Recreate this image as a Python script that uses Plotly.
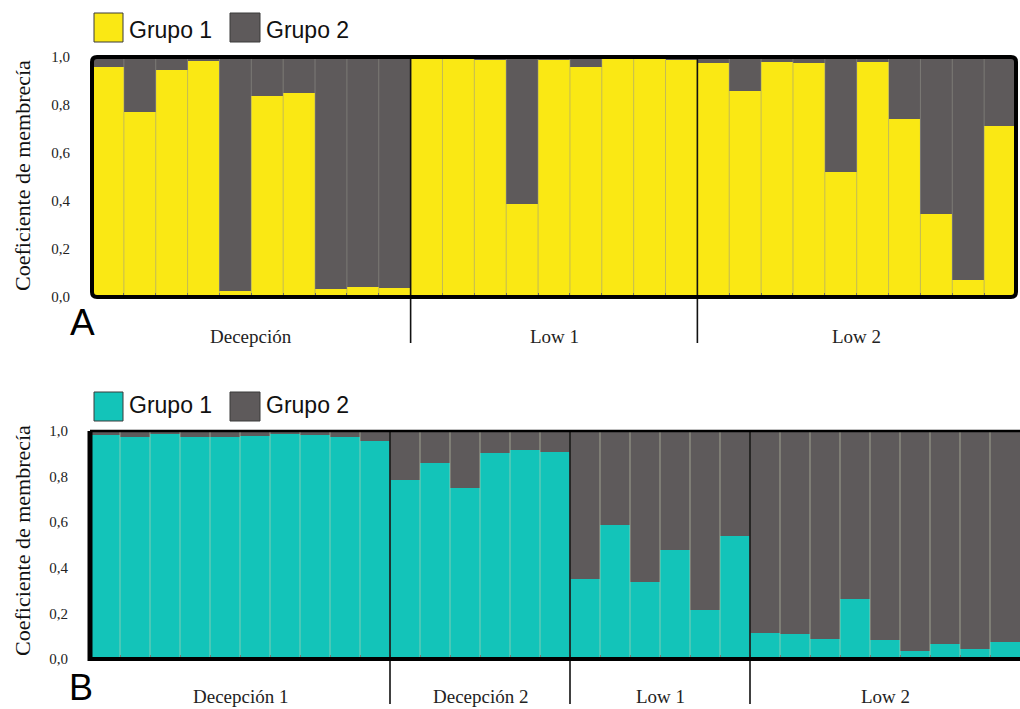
import plotly.graph_objects as go

W, H = 1020, 709

# ---------------- data ----------------
groups_a = ["Decepción", "Low 1", "Low 2"]
counts_a = [10, 9, 10]
grupo1_a = [0.957, 0.769, 0.947, 0.982, 0.025, 0.838, 0.849, 0.032, 0.040, 0.036,
            0.995, 0.995, 0.989, 0.388, 0.986, 0.958, 0.990, 0.995, 0.986,
            0.975, 0.860, 0.978, 0.975, 0.520, 0.978, 0.742, 0.345, 0.071, 0.713]
grupo2_a = [0.043, 0.231, 0.053, 0.018, 0.975, 0.162, 0.151, 0.968, 0.960, 0.964,
            0.005, 0.005, 0.011, 0.612, 0.014, 0.042, 0.010, 0.005, 0.014,
            0.025, 0.140, 0.022, 0.025, 0.480, 0.022, 0.258, 0.655, 0.929, 0.287]

groups_b = ["Decepción 1", "Decepción 2", "Low 1", "Low 2"]
counts_b = [10, 6, 6, 9]
grupo1_b = [0.982, 0.972, 0.987, 0.975, 0.975, 0.978, 0.987, 0.982, 0.975, 0.956,
            0.784, 0.860, 0.752, 0.904, 0.916, 0.907,
            0.351, 0.589, 0.336, 0.479, 0.216, 0.539,
            0.116, 0.109, 0.087, 0.263, 0.084, 0.035, 0.067, 0.043, 0.075]
grupo2_b = [0.018, 0.028, 0.013, 0.025, 0.025, 0.022, 0.013, 0.018, 0.025, 0.044,
            0.216, 0.140, 0.248, 0.096, 0.084, 0.093,
            0.649, 0.411, 0.664, 0.521, 0.784, 0.461,
            0.884, 0.891, 0.913, 0.737, 0.916, 0.965, 0.933, 0.957, 0.925]

legend_names = ["Grupo 1", "Grupo 2"]
y_ticks = [0.0, 0.2, 0.4, 0.6, 0.8, 1.0]
y_ticktext = ["0,0", "0,2", "0,4", "0,6", "0,8", "1,0"]
y_title = "Coeficiente de membrecía"

# ---------------- styles ----------------
YELLOW = "#FAE814"
TEAL = "#13C4B9"
GRAY = "#5E5A5B"
SERIF = "Liberation Serif, Times New Roman, serif"
SANS = "Liberation Sans, Arial, sans-serif"


def px_x(v):
    return v / W


def px_y(v):
    return 1 - v / H


# panel geometry (pixels)
A_left, A_right, A_top, A_bot = 92, 1016, 57, 297
B_left, B_right, B_top, B_bot = 90, 1020, 431, 659

fig = go.Figure()

xa = list(range(len(grupo1_a)))
xb = list(range(len(grupo1_b)))

fig.add_trace(go.Bar(x=xa, y=grupo1_a, name=legend_names[0], marker_color=YELLOW,
                     marker_line_width=0, xaxis="x", yaxis="y", showlegend=False))
fig.add_trace(go.Bar(x=xa, y=grupo2_a, name=legend_names[1], marker_color=GRAY,
                     marker_line_width=0, xaxis="x", yaxis="y", showlegend=False))
fig.add_trace(go.Bar(x=xb, y=grupo1_b, name=legend_names[0], marker_color=TEAL,
                     marker_line_width=0, xaxis="x2", yaxis="y2", showlegend=False))
fig.add_trace(go.Bar(x=xb, y=grupo2_b, name=legend_names[1], marker_color=GRAY,
                     marker_line_width=0, xaxis="x2", yaxis="y2", showlegend=False))

shapes = []
annotations = []

# thin separators between individual bars
for i in range(len(xa) - 1):
    shapes.append(dict(type="line", xref="x", yref="y", x0=i + 0.5, x1=i + 0.5, y0=0, y1=1,
                       line=dict(color="rgba(150,150,140,0.55)", width=1), layer="above"))
for i in range(len(xb) - 1):
    shapes.append(dict(type="line", xref="x2", yref="y2", x0=i + 0.5, x1=i + 0.5, y0=0, y1=1,
                       line=dict(color="rgba(205,210,180,0.6)", width=1), layer="above"))


# group separators & labels
def group_marks(counts, names, xref, y_low_px, y_top_px, label_y_px):
    start = 0
    for k, (c, name) in enumerate(zip(counts, names)):
        center = start + (c - 1) / 2
        annotations.append(dict(x=center, xref=xref, y=px_y(label_y_px), yref="paper",
                                text=name, showarrow=False, xanchor="center", yanchor="middle",
                                font=dict(family=SERIF, size=19, color="#222")))
        start += c
        if k < len(counts) - 1:
            shapes.append(dict(type="line", xref=xref, yref="paper", x0=start - 0.5, x1=start - 0.5,
                               y0=px_y(y_low_px), y1=px_y(y_top_px),
                               line=dict(color="#111", width=1.6), layer="above"))


group_marks(counts_a, groups_a, "x", 343, A_top, 337)
group_marks(counts_b, groups_b, "x2", 704, B_top, 696)

# frame A (rounded)
r_x, r_y = 5 / W, 5 / H
x0, x1 = px_x(A_left), px_x(A_right)
y0, y1 = px_y(A_bot), px_y(A_top)
path = (f"M {x0 + r_x},{y1} L {x1 - r_x},{y1} Q {x1},{y1} {x1},{y1 - r_y} "
        f"L {x1},{y0 + r_y} Q {x1},{y0} {x1 - r_x},{y0} L {x0 + r_x},{y0} "
        f"Q {x0},{y0} {x0},{y0 + r_y} L {x0},{y1 - r_y} Q {x0},{y1} {x0 + r_x},{y1} Z")
shapes.append(dict(type="path", xref="paper", yref="paper", path=path,
                   line=dict(color="#000", width=4), layer="above"))

# frame B (left, bottom thick; top thinner; right cut off)
shapes.append(dict(type="line", xref="paper", yref="paper", x0=px_x(B_left), x1=px_x(B_left),
                   y0=px_y(B_bot + 2), y1=px_y(B_top), line=dict(color="#000", width=5), layer="above"))
shapes.append(dict(type="line", xref="paper", yref="paper", x0=px_x(B_left - 2), x1=1,
                   y0=px_y(B_bot), y1=px_y(B_bot), line=dict(color="#000", width=4), layer="above"))
shapes.append(dict(type="line", xref="paper", yref="paper", x0=px_x(B_left), x1=1,
                   y0=px_y(B_top), y1=px_y(B_top), line=dict(color="#000", width=2.5), layer="above"))


# manual legends
def legend(color1, y_top_px, y_bot_px, text_y_px):
    items = [(color1, 94, 123, 127, legend_names[0]), (GRAY, 230, 260, 264, legend_names[1])]
    for col, sx0, sx1, tx, name in items:
        shapes.append(dict(type="rect", xref="paper", yref="paper",
                           x0=px_x(sx0), x1=px_x(sx1), y0=px_y(y_bot_px), y1=px_y(y_top_px),
                           fillcolor=col, line=dict(color="#3a3a3a", width=1)))
        annotations.append(dict(x=px_x(tx), xref="paper", y=px_y(text_y_px), yref="paper",
                                text=name, showarrow=False, xanchor="left", yanchor="middle",
                                font=dict(family=SANS, size=23, color="#111")))


legend(YELLOW, 13, 42, 30)
legend(TEAL, 392, 421, 405)

# y titles
annotations.append(dict(x=px_x(22), xref="paper", y=px_y(176), yref="paper", text=y_title,
                        textangle=-90, showarrow=False, xanchor="center", yanchor="middle",
                        font=dict(family=SERIF, size=22, color="#111")))
annotations.append(dict(x=px_x(22), xref="paper", y=px_y(541), yref="paper", text=y_title,
                        textangle=-90, showarrow=False, xanchor="center", yanchor="middle",
                        font=dict(family=SERIF, size=22, color="#111")))

# panel letters
annotations.append(dict(x=px_x(82), xref="paper", y=px_y(323), yref="paper", text="A",
                        showarrow=False, xanchor="center", yanchor="middle",
                        font=dict(family=SANS, size=37, color="#000")))
annotations.append(dict(x=px_x(81), xref="paper", y=0, yref="paper", text="B",
                        showarrow=False, xanchor="center", yanchor="bottom", yshift=-1,
                        font=dict(family=SANS, size=36, color="#000")))

yaxis_common = dict(range=[0, 1], tickvals=y_ticks, ticktext=y_ticktext, ticks="outside",
                    ticklen=18, tickcolor="rgba(0,0,0,0)", showgrid=False, zeroline=False,
                    showline=False, automargin=False,
                    tickfont=dict(family=SERIF, size=15, color="#222"))
xaxis_common = dict(ticks="inside", ticklen=4, tickcolor="#555", showticklabels=False,
                    showgrid=False, zeroline=False, showline=False, automargin=False,
                    layer="above traces")

fig.update_layout(
    width=W, height=H,
    margin=dict(l=0, r=0, t=0, b=0, pad=0, autoexpand=False),
    paper_bgcolor="white", plot_bgcolor="white",
    barmode="stack", bargap=0,
    xaxis=dict(domain=[px_x(A_left), px_x(A_right)], range=[-0.5, len(xa) - 0.5], anchor="y",
               tickvals=[i + 0.5 for i in range(len(xa) - 1)], **xaxis_common),
    yaxis=dict(domain=[px_y(A_bot), px_y(A_top)], anchor="x", **yaxis_common),
    xaxis2=dict(domain=[px_x(B_left), 1.0], range=[-0.5, len(xb) - 0.5], anchor="y2",
                tickvals=[i + 0.5 for i in range(len(xb) - 1)], **xaxis_common),
    yaxis2=dict(domain=[px_y(B_bot), px_y(B_top)], anchor="x2", **yaxis_common),
    shapes=shapes,
    annotations=annotations,
)

fig.write_html("out.html", config={"displayModeBar": False},
               post_script="document.body.style.margin='0';document.body.style.overflow='hidden';")
